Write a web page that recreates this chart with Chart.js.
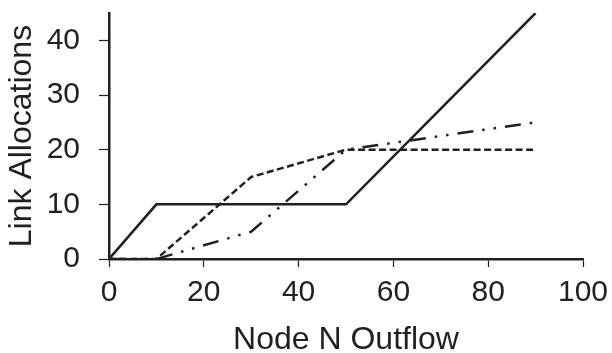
<!DOCTYPE html>
<html>
<head>
<meta charset="utf-8">
<script src="https://cdn.jsdelivr.net/npm/chart.js@4.4.0/dist/chart.umd.min.js"></script>
<style>
    html, body { margin: 0; padding: 0; background: #fff; }
    #wrap { width: 612px; height: 353px; }
</style>
</head>
<body>
<div id="wrap"><canvas id="allocChart"></canvas></div>
<script>
// Node N outflow vs. link allocations
const outflow = [0, 10, 30, 50, 90];
const linkSolid = [0, 10, 10, 10, 45];
const linkDashed = [0, 0, 15, 20, 20];
const linkDashDot = [0, 0, 5, 20, 25];
const xTicks = [0, 20, 40, 60, 80, 100];
const yTicks = [0, 10, 20, 30, 40];

const ink = '#231f20';
const font = 'Liberation Sans, Arial, sans-serif';

function toPoints(ys) {
    return outflow.map((x, i) => ({ x: x, y: ys[i] }));
}

function series(ys, dash) {
    return {
        data: toPoints(ys),
        borderColor: ink,
        borderWidth: 2.5,
        borderDash: dash,
        pointRadius: 0,
        tension: 0,
        fill: false
    };
}

const ctx = document.getElementById('allocChart');
new Chart(ctx, {
    type: 'line',
    data: {
        datasets: [
            series(linkSolid, []),
            series(linkDashed, [7, 3.5]),
            series(linkDashDot, [16, 9, 2.5, 9, 2.5, 9])
        ]
    },
    options: {
        responsive: true,
        maintainAspectRatio: false,
        animation: false,
        layout: { padding: { top: 13, right: 29, left: 0, bottom: 0 } },
        plugins: { legend: { display: false }, tooltip: { enabled: false } },
        scales: {
            x: {
                type: 'linear',
                min: 0,
                max: 100,
                afterBuildTicks: s => { s.ticks = xTicks.map(v => ({ value: v })); },
                afterFit: s => { s.height = 94; s.paddingLeft = 0; s.paddingRight = 0; },
                border: { display: true, color: ink, width: 2.5 },
                grid: { drawOnChartArea: false, tickLength: 8, tickColor: ink, tickWidth: 1.2 },
                ticks: { color: ink, padding: 8, maxRotation: 0, font: { family: font, size: 30 } },
                title: {
                    display: true,
                    text: 'Node N Outflow',
                    color: ink,
                    padding: 0,
                    font: { family: font, size: 32, lineHeight: 0.8 }
                }
            },
            y: {
                type: 'linear',
                min: 0,
                max: 45,
                afterBuildTicks: s => { s.ticks = yTicks.map(v => ({ value: v })); },
                afterFit: s => { s.width = 109; s.paddingTop = 0; s.paddingBottom = 0; },
                border: { display: true, color: ink, width: 2.5 },
                grid: { drawOnChartArea: false, tickLength: 10, tickColor: ink, tickWidth: 1.2 },
                ticks: { color: ink, padding: 19, font: { family: font, size: 30 } },
                title: {
                    display: true,
                    text: 'Link Allocations',
                    color: ink,
                    padding: { top: 6, bottom: 0 },
                    font: { family: font, size: 32, lineHeight: 1 }
                }
            }
        }
    }
});
</script>
</body>
</html>
